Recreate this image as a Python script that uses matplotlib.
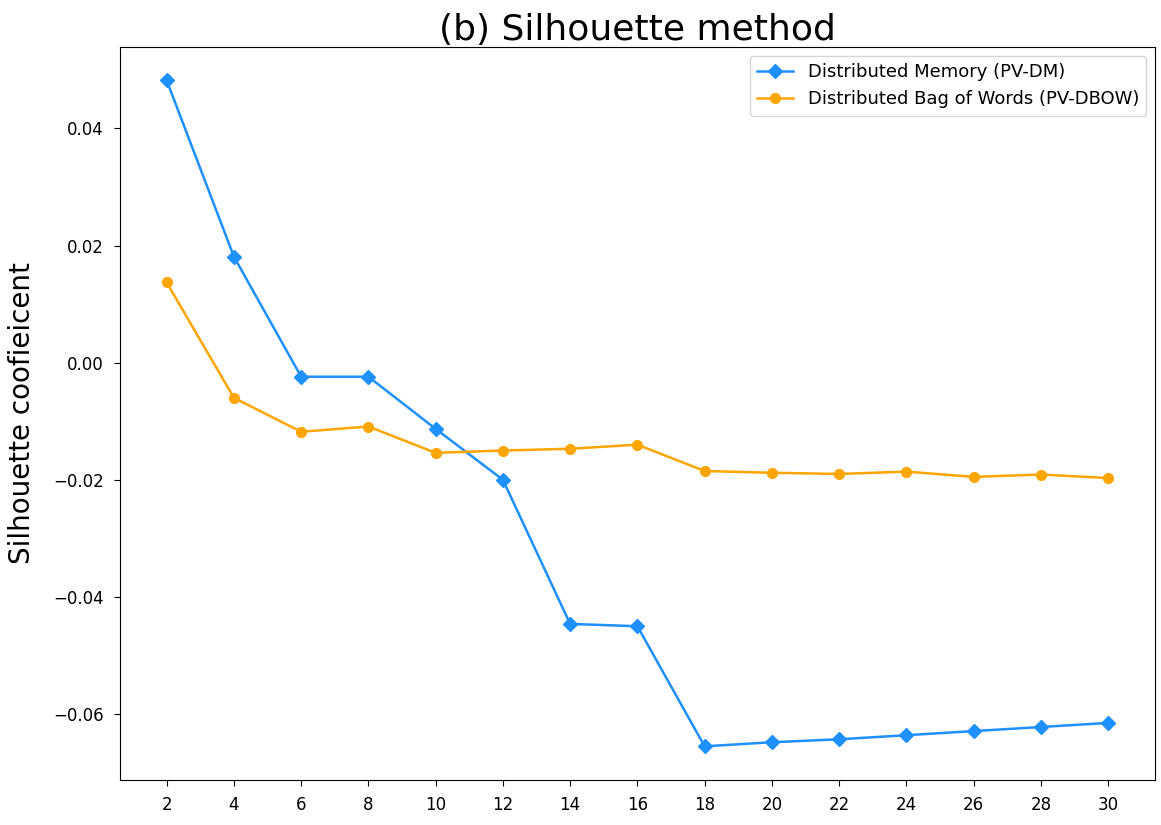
import numpy as np
import matplotlib
matplotlib.use('Agg')
import matplotlib.pyplot as plt

# number of clusters
n_clusters = [2, 4, 6, 8, 10, 12, 14, 16, 18, 20, 22, 24, 26, 28, 30]
# silhouette scores
sil_dm = [0.0482, 0.0181, -0.0024, -0.0024, -0.0113, -0.0200, -0.0446, -0.0450,
          -0.0655, -0.0648, -0.0643, -0.0636, -0.0629, -0.0622, -0.0615]
sil_dbow = [0.0137, -0.0060, -0.0118, -0.0109, -0.0154, -0.0150, -0.0147, -0.0140,
            -0.0185, -0.0188, -0.0190, -0.0186, -0.0195, -0.0191, -0.0197]

fig = plt.figure(figsize=(11.61, 8.25), dpi=100)
ax = fig.add_axes([0.103, 0.055, 0.892, 0.888])
ax.plot(n_clusters, sil_dm, marker='D', markersize=7, linewidth=1.8,
        color='dodgerblue', label='Distributed Memory (PV-DM)')
ax.plot(n_clusters, sil_dbow, marker='o', markersize=7, linewidth=1.8,
        color='orange', label='Distributed Bag of Words (PV-DBOW)')
ax.set_xticks(n_clusters)
ax.tick_params(labelsize=12, length=4.5, pad=7)
ax.set_ylabel('Silhouette coofieicent', fontsize=20, labelpad=12)
ax.set_title('(b) Silhouette method', fontsize=26, pad=4)
ax.legend(loc='upper right', fontsize=13)
plt.savefig('out.png', dpi=100)
